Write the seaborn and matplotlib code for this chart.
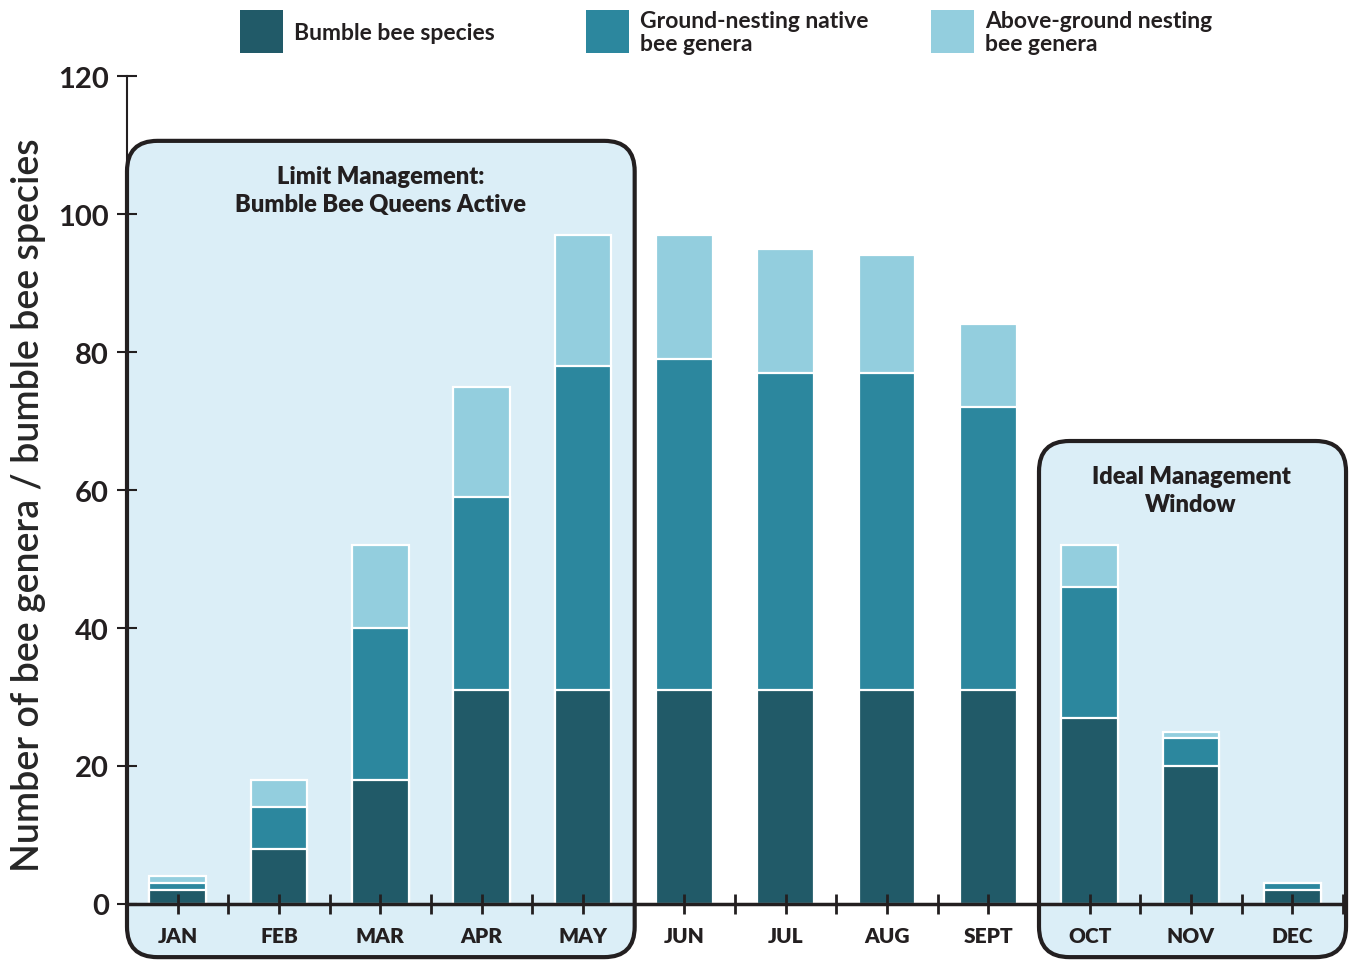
import matplotlib
matplotlib.use("Agg")
import matplotlib.pyplot as plt
from matplotlib.patches import FancyBboxPatch, Rectangle
import seaborn as sns
import pandas as pd
import numpy as np

# values
months = ["JAN", "FEB", "MAR", "APR", "MAY", "JUN", "JUL", "AUG", "SEPT", "OCT", "NOV", "DEC"]
bumble = [2, 8, 18, 31, 31, 31, 31, 31, 31, 27, 20, 2]
ground = [1, 6, 22, 28, 47, 48, 46, 46, 41, 19, 4, 1]
above = [1, 4, 12, 16, 19, 18, 18, 17, 12, 6, 1, 0]

labels = ["Bumble bee species", "Ground-nesting native\nbee genera", "Above-ground nesting\nbee genera"]
colors = ["#215a68", "#2c879e", "#93cede"]
box_fc = "#dbeef7"
ink = "#231f20"

df = pd.DataFrame({"month": months, "bumble": bumble, "ground": ground, "above": above})
df["lvl2"] = df["bumble"] + df["ground"]
df["lvl3"] = df["lvl2"] + df["above"]

sns.set_style("ticks")
plt.rcParams["font.family"] = ["Lato", "DejaVu Sans"]
plt.rcParams["text.color"] = ink
plt.rcParams["axes.edgecolor"] = ink
plt.rcParams["xtick.color"] = ink
plt.rcParams["ytick.color"] = ink

W, H = 1349, 962
fig = plt.figure(figsize=(W / 100, H / 100), dpi=100)
ax = fig.add_axes([127 / W, 57 / H, 1216 / W, 828 / H])

# stacked bars: draw cumulative totals back to front
for col, c in [("lvl3", colors[2]), ("lvl2", colors[1]), ("bumble", colors[0])]:
    sns.barplot(data=df, x="month", y=col, color=c, width=0.56, saturation=1,
                edgecolor="white", linewidth=1.6, ax=ax, zorder=3, errorbar=None)

ax.set_xlim(-0.5, 11.5)
ax.set_ylim(0, 120)

# shaded management windows
asp = (120 / 828) / (12 / 1216)
boxes = [(-0.5, 4.51, -7.7, 110.6), (8.5, 11.53, -7.7, 67.1)]
for x0, x1, y0, y1 in boxes:
    p = FancyBboxPatch((x0, y0), x1 - x0, y1 - y0,
                       boxstyle="round,pad=0,rounding_size=0.3", mutation_aspect=asp,
                       fc=box_fc, ec=ink, lw=3, clip_on=False, zorder=0.5,
                       transform=ax.transData)
    ax.add_patch(p)

ax.text(2.0, 103.5, "Limit Management:\nBumble Bee Queens Active", ha="center", va="center",
        fontsize=17, fontweight="heavy", linespacing=1.35, zorder=4)
ax.text(10.0, 60.0, "Ideal Management\nWindow", ha="center", va="center",
        fontsize=17, fontweight="heavy", linespacing=1.35, zorder=4)

sns.despine(ax=ax)
ax.spines["left"].set_linewidth(1.5)
ax.spines["bottom"].set_linewidth(2.5)
ax.spines["left"].set_zorder(5)
ax.spines["bottom"].set_zorder(5)
ax.xaxis.set_zorder(5)
ax.yaxis.set_zorder(5)

ax.set_yticks(range(0, 121, 20), [str(v) for v in range(0, 121, 20)],
              fontsize=21, fontweight="bold")
ax.tick_params(axis="y", direction="inout", length=14, width=1.5, pad=6)
ax.set_xticks(range(len(months)), months, fontsize=15, fontweight="heavy")
ax.set_xticks(np.arange(0.5, 12, 1), minor=True)
ax.tick_params(axis="x", which="both", direction="inout", length=14, width=2, pad=9)
ax.set_xlabel("")
ax.set_ylabel("Number of bee genera / bumble bee species", fontsize=27,
              fontweight="semibold")
ax.yaxis.set_label_coords(-0.067, 0.483)

# legend across the top
leg_x = [240, 586, 931]
for x, lab, c in zip(leg_x, labels, colors):
    fig.add_artist(Rectangle((x / W, 1 - 54 / H), 43 / W, 43 / H, transform=fig.transFigure,
                             fc=c, ec="none"))
    fig.text((x + 54) / W, 1 - 33 / H, lab, ha="left", va="center", fontsize=16.5,
             fontweight="bold", linespacing=1.1)

fig.savefig("out.png", dpi=100)
